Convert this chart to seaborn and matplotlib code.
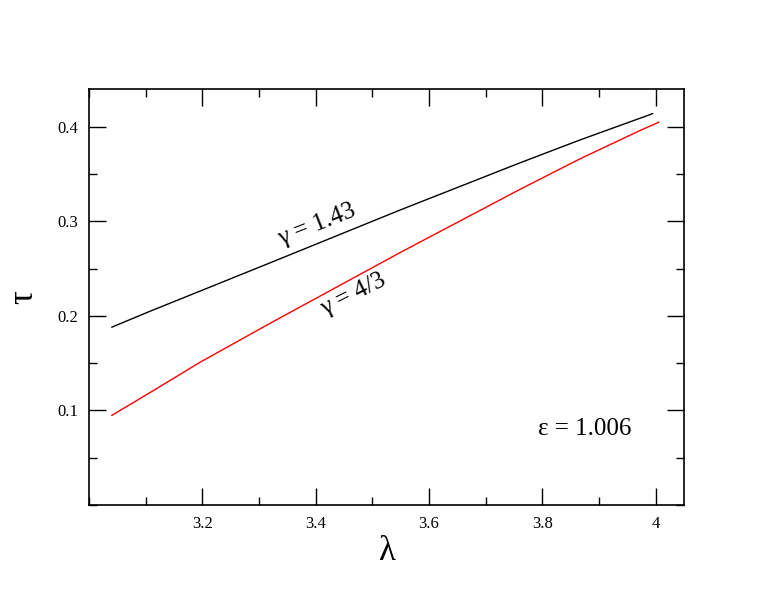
import matplotlib
matplotlib.use('Agg')
import matplotlib.pyplot as plt
import numpy as np
import pandas as pd
import seaborn as sns
from matplotlib.ticker import MultipleLocator

# values
LAMBDA_143 = [3.04, 3.108, 3.166, 3.319, 3.549, 3.761, 3.866, 3.972, 3.995]
TAU_143 = [0.188, 0.205, 0.219, 0.256, 0.312, 0.362, 0.386, 0.409, 0.414]
LAMBDA_43 = [3.04, 3.108, 3.196, 3.319, 3.549, 3.761, 3.866, 3.972, 4.006]
TAU_43 = [0.0947, 0.119, 0.151, 0.192, 0.267, 0.334, 0.366, 0.396, 0.405]
SERIES = ['1.43', '4/3']
COLORS = {'1.43': 'black', '4/3': 'red'}


def main():
    sns.set_style('ticks')
    plt.rcParams['font.family'] = ['Liberation Serif', 'DejaVu Serif']
    plt.rcParams['text.color'] = 'black'
    plt.rcParams['axes.labelcolor'] = 'black'
    plt.rcParams['xtick.color'] = 'black'
    plt.rcParams['ytick.color'] = 'black'
    df = pd.concat([
        pd.DataFrame({'lam': LAMBDA_143, 'tau': TAU_143, 'gamma': SERIES[0]}),
        pd.DataFrame({'lam': LAMBDA_43, 'tau': TAU_43, 'gamma': SERIES[1]}),
    ])

    fig = plt.figure(figsize=(7.7, 5.95), dpi=100)
    ax = fig.add_axes([0.1156, 0.1513, 0.7727, 0.6991])
    sns.lineplot(ax=ax, data=df, x='lam', y='tau', hue='gamma', palette=COLORS, legend=False,
                 linewidth=1, sort=False, estimator=None)

    ax.set_xlim(3.0, 4.05)
    ax.set_ylim(0.0, 0.44)
    ax.xaxis.set_minor_locator(MultipleLocator(0.1))
    ax.yaxis.set_minor_locator(MultipleLocator(0.05))
    ax.set_xticks([3.2, 3.4, 3.6, 3.8, 4.0])
    ax.set_xticklabels(['3.2', '3.4', '3.6', '3.8', '4'])
    ax.set_yticks([0.1, 0.2, 0.3, 0.4])
    ax.set_yticklabels(['0.1', '0.2', '0.3', '0.4'])
    ax.tick_params(which='both', direction='in', top=True, right=True, labelsize=12, width=1, pad=8)
    ax.tick_params(which='major', length=12)
    ax.tick_params(which='minor', length=6)
    for sp in ax.spines.values():
        sp.set_linewidth(1.2)
        sp.set_color('black')

    ax.set_xlabel('λ', fontsize=25, labelpad=2)
    ax.set_ylabel('τ', fontsize=25, labelpad=12)

    ax.text(3.402, 0.2964, 'γ = 1.43', fontsize=18, rotation=21.5, ha='center', va='center',
            rotation_mode='anchor')
    ax.text(3.466, 0.2227, 'γ = 4/3', fontsize=18, rotation=26.5, ha='center', va='center',
            rotation_mode='anchor')
    ax.text(3.875, 0.08, 'ε = 1.006', fontsize=18, ha='center', va='center')

    fig.savefig('out.png', dpi=100)


if __name__ == '__main__':
    main()
